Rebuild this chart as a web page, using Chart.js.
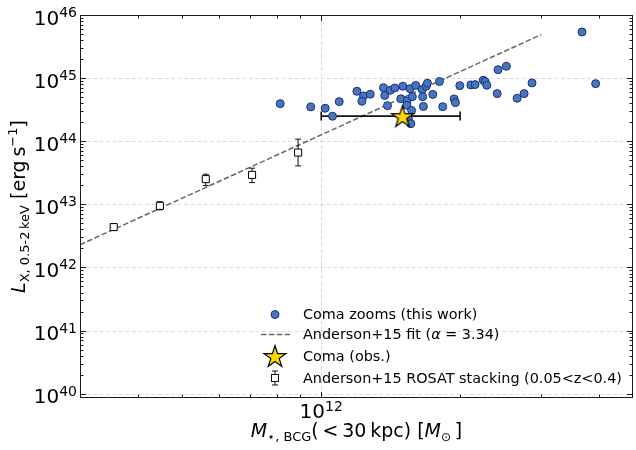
<!DOCTYPE html>
<html>
<head>
<meta charset="utf-8">
<script src="https://cdn.jsdelivr.net/npm/chart.js@4.4.1/dist/chart.umd.min.js"></script>
<style>
html,body{margin:0;padding:0;background:#fff;}
canvas{display:block;}
</style>
</head>
<body>
<canvas id="c" width="636" height="450"></canvas>
<script>
// ---------- DATA ----------
const comaX = [8.15e11, 9.49e11, 1.02e12, 1.058e12, 1.094e12, 1.195e12, 1.235e12, 1.225e12, 1.277e12, 1.364e12,
  1.373e12, 1.411e12, 1.444e12, 1.392e12, 1.503e12, 1.488e12, 1.535e12, 1.533e12, 1.558e12, 1.576e12,
  1.602e12, 1.57e12, 1.545e12, 1.564e12, 1.655e12, 1.659e12, 1.688e12, 1.699e12, 1.665e12, 1.745e12,
  1.804e12, 1.834e12, 1.941e12, 1.954e12, 1.997e12, 2.11e12, 2.155e12, 2.245e12, 2.266e12, 2.285e12,
  2.407e12, 2.417e12, 2.519e12, 2.658e12, 2.753e12, 2.864e12, 3.675e12, 3.934e12];
const comaY = [3.94e44, 3.50e44, 3.33e44, 2.49e44, 4.24e44, 6.19e44, 5.22e44, 4.31e44, 5.56e44, 7.06e44,
  5.32e44, 6.43e44, 6.98e44, 3.66e44, 7.43e44, 4.71e44, 4.35e44, 3.72e44, 6.81e44, 5.09e44,
  7.66e44, 3.08e44, 2.26e44, 1.90e44, 6.61e44, 5.07e44, 7.43e44, 8.32e44, 3.56e44, 5.52e44,
  8.85e44, 3.53e44, 4.68e44, 4.09e44, 7.60e44, 7.80e44, 7.89e44, 9.25e44, 8.79e44, 7.71e44,
  5.68e44, 1.36e45, 1.54e45, 4.80e44, 5.68e44, 8.40e44, 5.38e45, 8.17e44];

const fitX = [3.0e11, 3.0e12];
const fitY = [2.29e42, 4.9e45];

const obsX = [1.5e12];
const obsY = [2.5e44];
const obsXLow = [1.0e12];
const obsXHigh = [2.0e12];

const andX = [3.55e11, 4.47e11, 5.62e11, 7.08e11, 8.91e11];
const andY = [4.36e42, 9.46e42, 2.51e43, 2.93e43, 6.61e43];
const andYLow = [3.9e42, 8.2e42, 1.99e43, 2.21e43, 4.07e43];
const andYHigh = [4.8e42, 1.10e43, 3.01e43, 3.74e43, 1.08e44];

const yTickExps = [40, 41, 42, 43, 44, 45, 46];
const xTickExps = [12];

const labels = ['Coma zooms (this work)', 'Anderson+15 fit (\u03b1 = 3.34)', 'Coma (obs.)', 'Anderson+15 ROSAT stacking (0.05<z<0.4)'];

const xMin = 3.0e11, xMax = 4.74e12, yMin = 8.55e39, yMax = 1e46;

// ---------- STYLE ----------
const FONT = '"DejaVu Sans", "Liberation Sans", sans-serif';
const BLUE_FILL = '#4677b8';
const BLUE_EDGE = '#1c2c86';
const STAR_FILL = '#FFD700';

function makeStar() {
  const c = document.createElement('canvas');
  c.width = 30; c.height = 30;
  const g = c.getContext('2d');
  const R = 11.5, r = R * 0.382;
  g.beginPath();
  for (let i = 0; i < 10; i++) {
    const a = -Math.PI / 2 + i * Math.PI / 5;
    const rr = i % 2 === 0 ? R : r;
    const px = 15 + rr * Math.cos(a), py = 15 + 1.2 + rr * Math.sin(a);
    if (i === 0) g.moveTo(px, py); else g.lineTo(px, py);
  }
  g.closePath();
  g.fillStyle = STAR_FILL; g.fill();
  g.lineWidth = 1.2; g.strokeStyle = '#000'; g.lineJoin = 'miter'; g.stroke();
  return c;
}
const starImg = makeStar();

function font(s, it) { return (it ? 'italic ' : '') + s + 'px ' + FONT; }
function richWidth(ctx, segs) {
  let w = 0;
  for (const s of segs) { ctx.font = font(s.s, s.it); w += ctx.measureText(s.t).width; }
  return w;
}
function drawRich(ctx, segs, x, y, align) {
  const w = richWidth(ctx, segs);
  let cx = align === 'center' ? x - w / 2 : align === 'right' ? x - w : x;
  ctx.textAlign = 'left'; ctx.textBaseline = 'alphabetic';
  for (const s of segs) {
    ctx.font = font(s.s, s.it);
    ctx.fillText(s.t, cx, y + (s.dy || 0));
    cx += ctx.measureText(s.t).width;
  }
}

const decor = {
  id: 'decor',
  beforeDraw(chart) {
    const ctx = chart.ctx;
    ctx.save(); ctx.fillStyle = '#fff'; ctx.fillRect(0, 0, chart.width, chart.height); ctx.restore();
  },
  beforeDatasetsDraw(chart) {
    const ctx = chart.ctx, xs = chart.scales.x, ys = chart.scales.y, a = chart.chartArea;
    ctx.save();
    // grid
    ctx.strokeStyle = 'rgba(0,0,0,0.14)'; ctx.lineWidth = 1; ctx.setLineDash([4, 2.5]);
    for (const e of yTickExps) {
      const y = Math.round(ys.getPixelForValue(Math.pow(10, e))) + 0.5;
      if (y < a.top + 1 || y > a.bottom) continue;
      ctx.beginPath(); ctx.moveTo(a.left, y); ctx.lineTo(a.right, y); ctx.stroke();
    }
    for (const e of xTickExps) {
      const x = Math.round(xs.getPixelForValue(Math.pow(10, e))) + 0.5;
      ctx.beginPath(); ctx.moveTo(x, a.top); ctx.lineTo(x, a.bottom); ctx.stroke();
    }
    ctx.setLineDash([]);
    // Anderson error bars
    ctx.strokeStyle = '#111'; ctx.lineWidth = 1;
    for (let i = 0; i < andX.length; i++) {
      const x = xs.getPixelForValue(andX[i]);
      const y1 = ys.getPixelForValue(andYLow[i]), y2 = ys.getPixelForValue(andYHigh[i]);
      ctx.beginPath();
      ctx.moveTo(x, y1); ctx.lineTo(x, y2);
      ctx.moveTo(x - 3, y1); ctx.lineTo(x + 3, y1);
      ctx.moveTo(x - 3, y2); ctx.lineTo(x + 3, y2);
      ctx.stroke();
    }
    // Coma obs x error bar
    ctx.strokeStyle = '#111'; ctx.lineWidth = 1.6;
    for (let i = 0; i < obsX.length; i++) {
      const y = ys.getPixelForValue(obsY[i]);
      const x1 = xs.getPixelForValue(obsXLow[i]), x2 = xs.getPixelForValue(obsXHigh[i]);
      ctx.beginPath();
      ctx.moveTo(x1, y); ctx.lineTo(x2, y);
      ctx.moveTo(x1, y - 4.5); ctx.lineTo(x1, y + 4.5);
      ctx.moveTo(x2, y - 4.5); ctx.lineTo(x2, y + 4.5);
      ctx.stroke();
    }
    ctx.restore();
  },
  afterDatasetsDraw(chart) {
    const ctx = chart.ctx, xs = chart.scales.x, ys = chart.scales.y, a = chart.chartArea;
    ctx.save();
    // frame
    ctx.strokeStyle = '#1a1a1a'; ctx.lineWidth = 1;
    ctx.strokeRect(a.left + 0.5, a.top + 0.5, a.right - a.left - 1, a.bottom - a.top - 1);
    // ticks
    ctx.beginPath();
    for (let e = 39; e <= 46; e++) {
      for (let m = 1; m <= 9; m++) {
        const v = m * Math.pow(10, e);
        if (v < yMin || v > yMax) continue;
        const y = Math.round(ys.getPixelForValue(v)) + 0.5;
        const L = m === 1 ? 6 : 3.5;
        ctx.moveTo(a.left, y); ctx.lineTo(a.left + L, y);
        ctx.moveTo(a.right, y); ctx.lineTo(a.right - L, y);
      }
    }
    for (let e = 11; e <= 12; e++) {
      for (let m = 1; m <= 9; m++) {
        const v = m * Math.pow(10, e);
        if (v <= xMin || v > xMax) continue;
        const x = Math.round(xs.getPixelForValue(v)) + 0.5;
        const L = m === 1 ? 6 : 3.5;
        ctx.moveTo(x, a.bottom); ctx.lineTo(x, a.bottom - L);
        ctx.moveTo(x, a.top); ctx.lineTo(x, a.top + L);
      }
    }
    ctx.stroke();
    // tick labels
    ctx.fillStyle = '#000';
    for (const e of yTickExps) {
      const y = ys.getPixelForValue(Math.pow(10, e));
      drawRich(ctx, [{t: '10', s: 20}, {t: String(e), s: 14, dy: -7.5}], a.left - 3, y + 9.5, 'right');
    }
    for (const e of xTickExps) {
      const x = xs.getPixelForValue(Math.pow(10, e));
      drawRich(ctx, [{t: '10', s: 20}, {t: String(e), s: 14, dy: -7.5}], x, a.bottom + 20, 'center');
    }
    // x title
    drawRich(ctx, [
      {t: 'M', s: 19, it: true}, {t: '\u22c6, BCG', s: 13, dy: 4},
      {t: '(\u2009<\u200930\u2009kpc) [', s: 19}, {t: 'M', s: 19, it: true}, {t: '\u2299', s: 12, dy: 4}, {t: '\u2009]', s: 19}
    ], (a.left + a.right) / 2, 437, 'center');
    // y title
    ctx.save();
    ctx.translate(25, (a.top + a.bottom) / 2);
    ctx.rotate(-Math.PI / 2);
    drawRich(ctx, [
      {t: 'L', s: 19, it: true}, {t: 'X, 0.5-2\u2009keV', s: 13, dy: 4},
      {t: ' [erg\u2009s', s: 19}, {t: '\u22121', s: 13, dy: -8}, {t: ']', s: 19}
    ], 0, 0, 'center');
    ctx.restore();
    // legend
    const ds = chart.data.datasets;
    const mx = 275, tx = 303;
    const rows = [314.5, 334.5, 356, 378];
    // row 0 circle
    ctx.beginPath(); ctx.arc(mx, rows[0], 4, 0, Math.PI * 2);
    ctx.fillStyle = BLUE_FILL; ctx.fill(); ctx.strokeStyle = BLUE_EDGE; ctx.lineWidth = 1; ctx.stroke();
    // row 1 dashed line
    ctx.beginPath(); ctx.setLineDash([5.5, 2.4]); ctx.strokeStyle = 'rgba(0,0,0,0.6)'; ctx.lineWidth = 1.5;
    ctx.moveTo(261, rows[1]); ctx.lineTo(290, rows[1]); ctx.stroke(); ctx.setLineDash([]);
    // row 2 star
    ctx.drawImage(starImg, mx - 15, rows[2] - 15);
    // row 3 square with errorbar
    ctx.strokeStyle = '#111'; ctx.lineWidth = 1;
    ctx.beginPath();
    ctx.moveTo(mx, rows[3] - 7); ctx.lineTo(mx, rows[3] + 7);
    ctx.moveTo(mx - 3, rows[3] - 7); ctx.lineTo(mx + 3, rows[3] - 7);
    ctx.moveTo(mx - 3, rows[3] + 7); ctx.lineTo(mx + 3, rows[3] + 7);
    ctx.stroke();
    ctx.fillStyle = '#fff'; ctx.fillRect(mx - 3.5, rows[3] - 3.5, 7, 7);
    ctx.strokeRect(mx - 3.5, rows[3] - 3.5, 7, 7);
    // texts
    ctx.fillStyle = '#000';
    ctx.font = font(14.4);
    ctx.textAlign = 'left'; ctx.textBaseline = 'alphabetic';
    ctx.fillText(ds[0].label, tx, rows[0] + 4.5);
    const t1 = ds[1].label, ai = t1.indexOf('\u03b1');
    drawRich(ctx, [{t: t1.slice(0, ai), s: 14.4}, {t: '\u03b1', s: 14.4, it: true}, {t: t1.slice(ai + 1), s: 14.4}], tx, rows[1] + 4.5, 'left');
    ctx.font = font(14.4);
    ctx.fillText(ds[2].label, tx, rows[2] + 5);
    ctx.fillText(ds[3].label, tx, rows[3] + 5);
    ctx.restore();
  }
};

new Chart(document.getElementById('c'), {
  type: 'scatter',
  data: {
    datasets: [
      {
        label: labels[0],
        data: comaX.map((x, i) => ({x, y: comaY[i]})),
        pointStyle: 'circle', pointRadius: 4, pointHoverRadius: 4,
        backgroundColor: BLUE_FILL, borderColor: BLUE_EDGE, borderWidth: 1,
        order: 1
      },
      {
        label: labels[1],
        type: 'line',
        data: fitX.map((x, i) => ({x, y: fitY[i]})),
        showLine: true, pointRadius: 0, borderColor: 'rgba(0,0,0,0.6)', borderWidth: 1.5,
        borderDash: [5.5, 2.4], fill: false, tension: 0,
        order: 3
      },
      {
        label: labels[2],
        data: obsX.map((x, i) => ({x, y: obsY[i]})),
        pointStyle: starImg, pointRadius: 11, pointHoverRadius: 11,
        order: 0
      },
      {
        label: labels[3],
        data: andX.map((x, i) => ({x, y: andY[i]})),
        pointStyle: 'rect', pointRadius: 5, pointHoverRadius: 5,
        backgroundColor: '#fff', borderColor: '#000', borderWidth: 1,
        order: 2
      }
    ]
  },
  options: {
    responsive: false,
    animation: false,
    devicePixelRatio: 1,
    events: [],
    layout: {autoPadding: false, padding: {left: 80, right: 3, top: 15, bottom: 52}},
    plugins: {legend: {display: false}, tooltip: {enabled: false}},
    scales: {
      x: {type: 'logarithmic', min: xMin, max: xMax, display: false},
      y: {type: 'logarithmic', min: yMin, max: yMax, display: false}
    }
  },
  plugins: [decor]
});
</script>
</body>
</html>
